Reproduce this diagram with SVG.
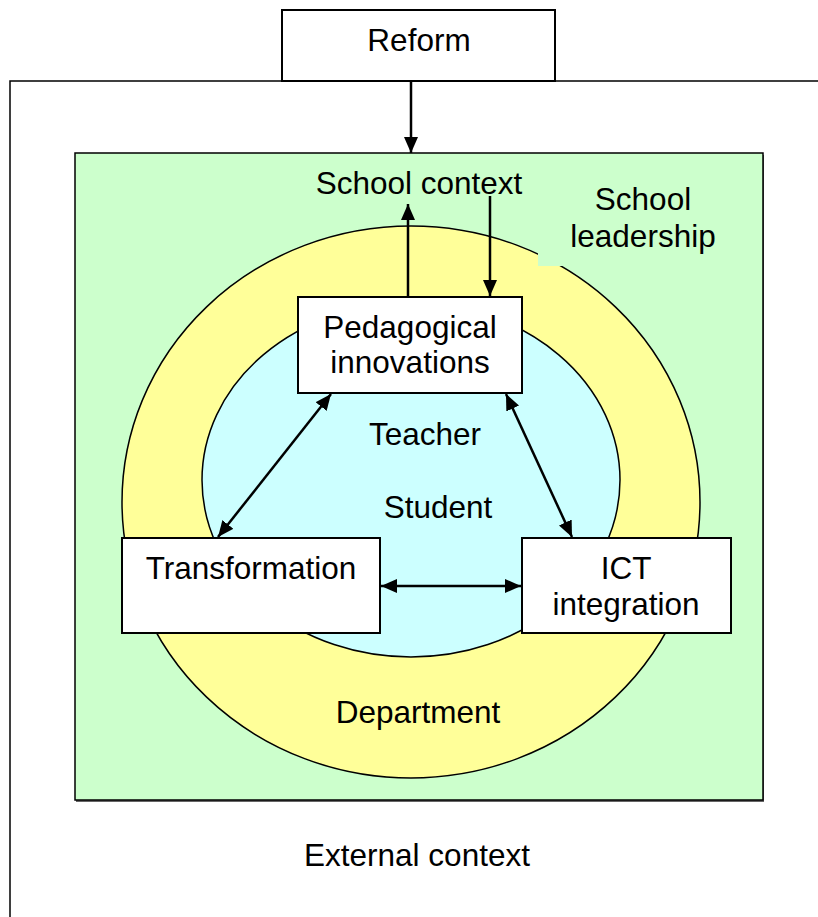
<svg xmlns="http://www.w3.org/2000/svg" width="818" height="917" viewBox="0 0 818 917">
<style>
  text { font-family: "Liberation Sans", Arial, sans-serif; font-size: 31.5px; fill: #000; text-anchor: middle; }
  .box { fill: #fff; stroke: #000; stroke-width: 2; }
  .conn { stroke: #000; stroke-width: 2.5; fill: none; }
</style>
<defs>
  <marker id="ah" viewBox="0 0 16 14" refX="16" refY="7" markerWidth="16" markerHeight="14" markerUnits="userSpaceOnUse" orient="auto-start-reverse">
    <path d="M0,0 L16,7 L0,14 Z" fill="#000"/>
  </marker>
</defs>
<rect width="818" height="917" fill="#fff"/>
<g id="external">
  <path d="M10,917 V81 H818" fill="none" stroke="#000" stroke-width="1.5"/>
  <text x="417" y="866">External context</text>
</g>
<g id="reform">
  <rect class="box" x="282" y="10" width="273" height="71" stroke-width="1.5"/>
  <text x="419" y="51">Reform</text>
</g>
<g id="school">
  <rect x="76" y="155" width="688" height="647" fill="#666"/>
  <rect x="75" y="153" width="688" height="647" fill="#CCFFCC" stroke="#000" stroke-width="1.5"/>
  <text x="419" y="194">School context</text>
</g>
<g id="department">
  <ellipse cx="411" cy="502" rx="289" ry="276" fill="#FFFF99" stroke="#000" stroke-width="1.5"/>
  <text x="418" y="723">Department</text>
</g>
<g id="leadership">
  <rect x="538" y="180" width="200" height="86" fill="#CCFFCC"/>
  <text x="643" y="210">School</text>
  <text x="643" y="247">leadership</text>
</g>
<g id="teacher">
  <ellipse cx="411" cy="480" rx="209" ry="177" fill="#CCFFFF" stroke="#000" stroke-width="1.5"/>
  <text x="425" y="445">Teacher</text>
  <text x="438" y="518">Student</text>
</g>
<g id="pedagogical">
  <rect class="box" x="298" y="297" width="224" height="96"/>
  <text x="410" y="338">Pedagogical</text>
  <text x="410" y="373">innovations</text>
</g>
<g id="transformation">
  <rect class="box" x="122" y="538" width="258" height="95"/>
  <text x="251" y="579">Transformation</text>
</g>
<g id="ict">
  <rect class="box" x="522" y="538" width="209" height="95"/>
  <text x="626" y="579">ICT</text>
  <text x="626" y="615">integration</text>
</g>
<g id="connectors">
  <line class="conn" x1="411" y1="81" x2="411" y2="153" marker-end="url(#ah)"/>
  <line class="conn" x1="408" y1="297" x2="408" y2="204" marker-end="url(#ah)"/>
  <line class="conn" x1="490" y1="196" x2="490" y2="296" marker-end="url(#ah)"/>
  <line class="conn" x1="331" y1="394" x2="218" y2="537" marker-start="url(#ah)" marker-end="url(#ah)"/>
  <line class="conn" x1="506" y1="394" x2="572" y2="537" marker-start="url(#ah)" marker-end="url(#ah)"/>
  <line class="conn" x1="381" y1="586" x2="521" y2="586" marker-start="url(#ah)" marker-end="url(#ah)"/>
</g>
</svg>
